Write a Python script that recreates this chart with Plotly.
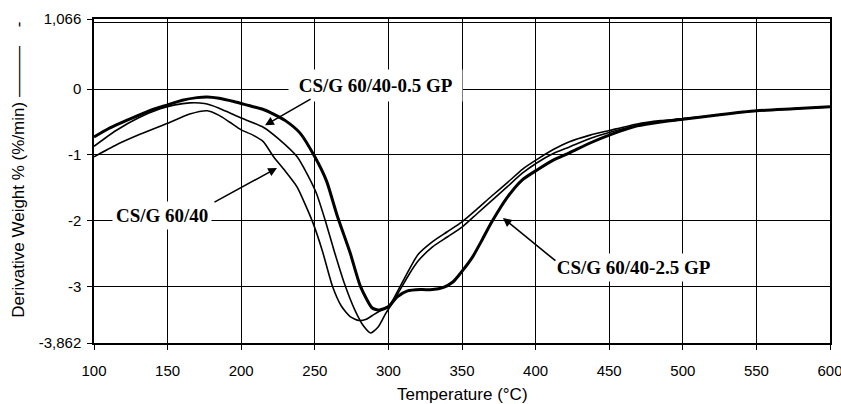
import plotly.graph_objects as go

# ---- data ----
t_gp25 = [100, 110, 125, 140, 150, 160, 170, 177, 185, 195, 205, 215, 222, 230, 240, 250, 258,
          265, 274, 281, 289, 294, 300, 306, 313, 322, 330, 337, 344, 349, 357, 364, 370, 381,
          391, 401, 412, 423, 437, 450, 469, 485, 500, 525, 550, 575, 600]
d_gp25 = [-0.73, -0.60, -0.45, -0.31, -0.24, -0.17, -0.13, -0.12, -0.14, -0.19, -0.25, -0.31,
          -0.38, -0.48, -0.67, -1.03, -1.40, -1.91, -2.49, -3.00, -3.33, -3.36, -3.31, -3.16,
          -3.07, -3.05, -3.05, -3.02, -2.93, -2.80, -2.56, -2.28, -2.03, -1.64, -1.38, -1.23,
          -1.08, -0.97, -0.82, -0.70, -0.56, -0.50, -0.46, -0.39, -0.33, -0.30, -0.27]

t_gp05 = [100, 115, 130, 145, 155, 165, 175, 185, 192, 200, 215, 225, 238, 245, 251, 257, 263,
          270, 277, 283, 288, 293, 298, 302, 308, 314, 320, 330, 340, 350, 360, 370, 381, 391,
          401, 412, 423, 437, 450, 469, 485, 500, 525, 550, 575, 600]
d_gp05 = [-0.87, -0.63, -0.44, -0.30, -0.24, -0.21, -0.22, -0.29, -0.36, -0.44, -0.58, -0.75,
          -1.03, -1.30, -1.58, -1.99, -2.45, -2.95, -3.35, -3.60, -3.71, -3.62, -3.42, -3.28,
          -3.05, -2.82, -2.62, -2.40, -2.25, -2.10, -1.90, -1.70, -1.48, -1.28, -1.12, -0.98,
          -0.88, -0.75, -0.66, -0.55, -0.50, -0.46, -0.39, -0.33, -0.30, -0.27]

t_base = [100, 115, 130, 150, 165, 177, 185, 192, 200, 208, 215, 222, 230, 238, 244, 249, 255,
          262, 268, 274, 280, 285, 290, 296, 301, 308, 314, 320, 330, 340, 350, 360, 370, 381,
          391, 401, 412, 423, 437, 450, 469, 485, 500, 525, 550, 575, 600]
d_base = [-1.03, -0.85, -0.70, -0.52, -0.38, -0.33, -0.40, -0.50, -0.62, -0.70, -0.80, -1.03,
          -1.25, -1.49, -1.78, -2.05, -2.45, -3.00, -3.30, -3.46, -3.52, -3.50, -3.43, -3.35,
          -3.28, -3.00, -2.75, -2.52, -2.32, -2.17, -2.02, -1.83, -1.63, -1.42, -1.22, -1.07,
          -0.92, -0.80, -0.70, -0.63, -0.53, -0.48, -0.45, -0.39, -0.33, -0.30, -0.27]

x_ticks = [100, 150, 200, 250, 300, 350, 400, 450, 500, 550, 600]
y_ticks = [-3.862, -3, -2, -1, 0, 1.066]
y_ticktext = ["-3,862", "-3", "-2", "-1", "0", "1,066"]
x_range = [100, 600]
y_range = [-3.862, 1.066]

fig = go.Figure()
fig.add_trace(go.Scatter(x=t_base, y=d_base, mode="lines", name="CS/G 60/40",
                         line=dict(color="black", width=1.6, shape="spline", smoothing=0.6)))
fig.add_trace(go.Scatter(x=t_gp05, y=d_gp05, mode="lines", name="CS/G 60/40-0.5 GP",
                         line=dict(color="black", width=1.6, shape="spline", smoothing=0.6)))
fig.add_trace(go.Scatter(x=t_gp25, y=d_gp25, mode="lines", name="CS/G 60/40-2.5 GP",
                         line=dict(color="black", width=3, shape="spline", smoothing=0.6)))

lab_font = dict(family="Liberation Serif", size=19, color="black")
arrow_kw = dict(showarrow=True, arrowhead=2, arrowsize=1.1, arrowwidth=1.6, arrowcolor="black",
                text="", xref="x", yref="y")

# labels with white boxes
fig.add_annotation(x=290.9, y=0.06, xref="x", yref="y",
                   text="<b>\u00a0CS/G 60/40-0.5 GP\u00a0</b>",
                   showarrow=False, font=lab_font, bgcolor="white", borderpad=5)
fig.add_annotation(x=146.2, y=-1.93, xref="x", yref="y", text="<b>CS/G 60/40</b>",
                   showarrow=False, font=lab_font, bgcolor="white", borderpad=3)
fig.add_annotation(x=466.2, y=-2.72, xref="x", yref="y",
                   text="<b>\u00a0CS/G 60/40-2.5 GP\u00a0</b>",
                   showarrow=False, font=lab_font, bgcolor="white", borderpad=3)

# arrows
fig.add_annotation(x=216.2, y=-0.55, ax=47, ay=-27, **arrow_kw)
fig.add_annotation(x=224.3, y=-1.20, ax=-64, ay=35, **arrow_kw)
fig.add_annotation(x=377.8, y=-1.96, ax=54, ay=44, **arrow_kw)

fig.update_layout(
    width=841, height=404,
    margin=dict(l=94, r=11, t=19, b=61, autoexpand=False),
    paper_bgcolor="white", plot_bgcolor="white",
    showlegend=False,
    font=dict(family="Liberation Sans", size=15, color="black"),
    xaxis=dict(range=x_range, tickvals=x_ticks, showgrid=True, gridcolor="black", gridwidth=1.2,
               showline=True, linecolor="black", linewidth=1.5, mirror=True, zeroline=False,
               ticks="outside", ticklen=5, tickcolor="black", tickwidth=1.2, automargin=False,
               ticklabelstandoff=8, ticklabeloverflow="allow", tickfont=dict(size=15)),
    yaxis=dict(range=y_range, tickvals=y_ticks, ticktext=y_ticktext, showgrid=True,
               gridcolor="black", gridwidth=1.2, showline=True, linecolor="black", linewidth=1.5,
               mirror=True, zeroline=False, ticks="outside", ticklen=5, tickcolor="black",
               tickwidth=1.2, ticklabelstandoff=3, tickfont=dict(size=15), automargin=False),
)

# titles
fig.add_annotation(x=0.5, y=-0.16, xref="paper", yref="paper", text="Temperature (\u00b0C)",
                   showarrow=False, font=dict(family="Liberation Sans", size=17, color="black"),
                   yanchor="middle")
fig.add_annotation(x=-0.103, y=0.535, xref="paper", yref="paper",
                   text="Derivative Weight % (%/min) \u2014\u2014\u2014\u00a0\u00a0\u00a0\u00a0-",
                   textangle=-90, showarrow=False,
                   font=dict(family="Liberation Sans", size=17, color="black"),
                   xanchor="center", yanchor="middle")

# double top border line
fig.add_shape(type="line", xref="paper", yref="paper", x0=0, x1=1, y0=1 - 3.5 / 324, y1=1 - 3.5 / 324,
              line=dict(color="black", width=1.2))

fig.write_html("out.html")
